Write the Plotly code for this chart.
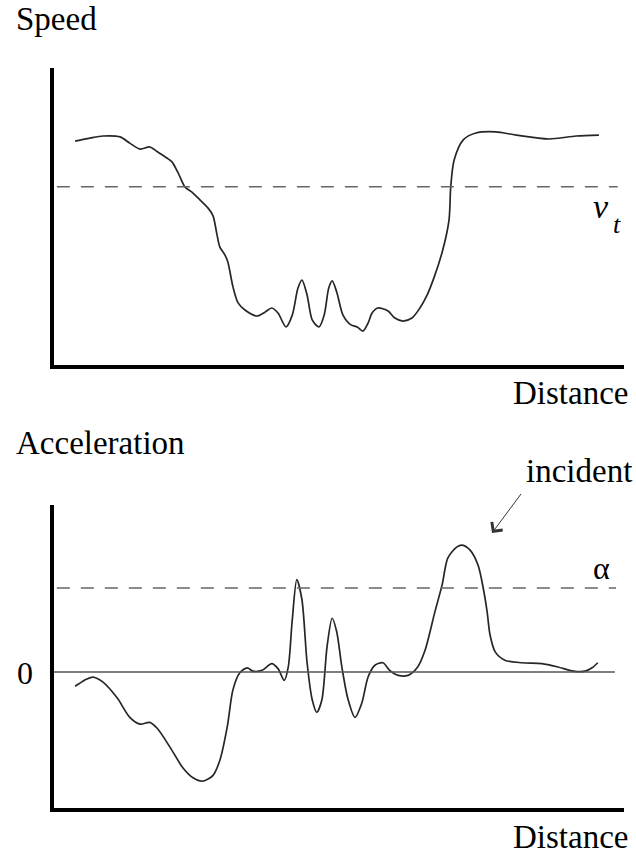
import plotly.graph_objects as go

W, H = 636, 855

# Speed profile along the road (arbitrary units)
distance_speed = [3.7, 6.3, 8.6, 11.6, 13.3, 15.1, 16.8, 18.2, 19.8, 20.7, 21.8, 23.0, 24.2, 25.6,
                  27.0, 27.9, 28.6, 29.1, 30.0, 30.5, 31.4, 32.3, 33.5, 35.6, 37.0, 38.2, 39.3,
                  40.7, 41.8, 42.8, 43.5, 44.4, 45.3, 46.5, 47.4, 48.2, 48.8, 49.6, 50.7, 52.1,
                  53.2, 54.2, 55.1, 55.8, 56.8, 58.6, 59.8, 61.2, 62.8, 64.2, 65.3, 66.7, 68.2,
                  69.3, 69.6, 70.2, 71.8, 74.0, 77.5, 81.1, 86.8, 91.6, 95.6]
speed = [75.4, 76.4, 77.1, 76.8, 74.7, 72.7, 73.4, 71.7, 69.7, 68.4, 64.6, 59.9, 58.2, 55.6,
         52.9, 50.2, 43.8, 39.7, 37.0, 34.7, 26.3, 20.9, 18.5, 16.5, 17.8, 19.2, 17.5,
         12.8, 16.8, 25.9, 28.6, 23.6, 15.2, 12.8, 16.8, 25.9, 28.3, 24.6, 16.8, 13.5,
         12.8, 11.4, 14.1, 17.5, 19.2, 18.2, 15.8, 14.8, 15.8, 19.2, 22.9, 29.6, 38.7,
         48.8, 59.9, 69.0, 75.8, 78.1, 78.5, 77.4, 76.1, 77.1, 77.4]
speed_threshold = 60.0  # v_t

# Acceleration profile along the same road
distance_acc = [3.7, 5.3, 6.8, 8.6, 11.1, 13.3, 15.1, 16.8, 18.1, 20.4, 22.6, 24.4, 26.1, 27.9,
                29.1, 30.4, 31.4, 32.6, 33.9, 34.9, 36.5, 38.2, 39.3, 40.4, 41.1, 41.8, 42.6,
                43.5, 44.4, 45.3, 46.1, 47.0, 47.9, 48.8, 49.6, 50.5, 51.6, 52.8, 54.0, 55.1,
                56.3, 57.7, 58.9, 60.4, 62.1, 63.7, 65.1, 66.8, 68.1, 69.1, 70.7, 71.6, 73.0,
                74.4, 75.3, 76.0, 76.5, 77.4, 79.1, 82.1, 85.6, 88.4, 91.1, 93.2, 94.4, 95.4]
acceleration = [-0.17, -0.10, -0.06, -0.12, -0.31, -0.54, -0.62, -0.60, -0.67, -0.90, -1.14,
                -1.26, -1.30, -1.23, -1.05, -0.65, -0.21, -0.01, 0.05, 0.01, 0.02, 0.10, 0.04,
                -0.10, 0.06, 0.62, 1.10, 0.86, 0.11, -0.33, -0.48, -0.33, 0.30, 0.64, 0.48,
                0.06, -0.33, -0.54, -0.37, -0.06, 0.08, 0.11, 0.02, -0.04, -0.04, 0.05, 0.26,
                0.71, 1.04, 1.36, 1.49, 1.51, 1.45, 1.27, 1.00, 0.71, 0.44, 0.24, 0.14, 0.11,
                0.10, 0.06, 0.01, 0.01, 0.05, 0.11]
acc_threshold = 1.0  # alpha


def fx(x):
    return x / W


def fy(y):
    return 1 - y / H


SERIF = "Liberation Serif, Times New Roman, Times, DejaVu Serif, serif"
CURVE = dict(color="#262626", width=1.7, shape="spline", smoothing=0.8)

fig = go.Figure()
fig.add_trace(go.Scatter(x=distance_speed, y=speed, mode="lines", line=CURVE,
                         xaxis="x", yaxis="y", hoverinfo="skip"))
fig.add_trace(go.Scatter(x=distance_acc, y=acceleration, mode="lines", line=CURVE,
                         xaxis="x2", yaxis="y2", hoverinfo="skip"))

dash = dict(color="#666666", width=1.6, dash="13px,11px")
fig.add_shape(type="line", xref="x", yref="y", x0=0.5, x1=98.9,
              y0=speed_threshold, y1=speed_threshold, line=dash)
fig.add_shape(type="line", xref="x2", yref="y2", x0=0.5, x1=98.6,
              y0=acc_threshold, y1=acc_threshold, line=dash)
fig.add_shape(type="line", xref="x2", yref="y2", x0=0, x1=98.4, y0=0, y1=0,
              line=dict(color="#555555", width=1.5))

axis_common = dict(showgrid=False, zeroline=False, showticklabels=False, ticks="",
                   showline=True, linewidth=4, linecolor="black", fixedrange=True)

x_dom = [fx(54), fx(624)]
fig.update_layout(
    width=W, height=H,
    margin=dict(l=0, r=0, t=0, b=0),
    paper_bgcolor="white", plot_bgcolor="white",
    showlegend=False,
    xaxis=dict(domain=x_dom, range=[0, 100], anchor="y", **axis_common),
    yaxis=dict(domain=[fy(365), fy(68)], range=[0, 100], anchor="x", **axis_common),
    xaxis2=dict(domain=x_dom, range=[0, 100], anchor="y2", **axis_common),
    yaxis2=dict(domain=[fy(808), fy(505)], range=[(672 - 808) / 84, (672 - 505) / 84],
                anchor="x2", **axis_common),
    font=dict(family=SERIF, color="black"),
)


def label(text, x, y, xanchor="left", size=33, **kw):
    fig.add_annotation(text=text, x=fx(x), y=fy(y), xref="paper", yref="paper",
                       xanchor=xanchor, yanchor="middle", showarrow=False,
                       font=dict(family=SERIF, size=size, color="black"), **kw)


label("Speed", 14, 19)
label("Distance", 630, 393, xanchor="right")
label("Acceleration", 14, 443)
label("Distance", 630, 837, xanchor="right")
label("0", 25, 673, xanchor="center", size=32)
label("α", 601, 568, xanchor="center", size=32)
# threshold symbol v_t: italic v with a lowered t beside it
label("<i>v</i>", 611, 207, xanchor="right", size=34)
label("<i>t</i>", 611, 224, xanchor="left", size=26)

# "incident" label with its arrow pointing down at the acceleration spike;
# the arrow tail sits at the lower-left corner of the label box
fig.add_annotation(text="incident", x=fx(492), y=fy(533), xref="paper", yref="paper",
                   ax=29, ay=-39, xanchor="left", yanchor="bottom",
                   borderpad=5, borderwidth=0,
                   showarrow=True, arrowhead=4, arrowsize=2.6,
                   arrowwidth=1.0, arrowcolor="#333333",
                   font=dict(family=SERIF, size=33, color="black"))

fig.write_html("out.html")
